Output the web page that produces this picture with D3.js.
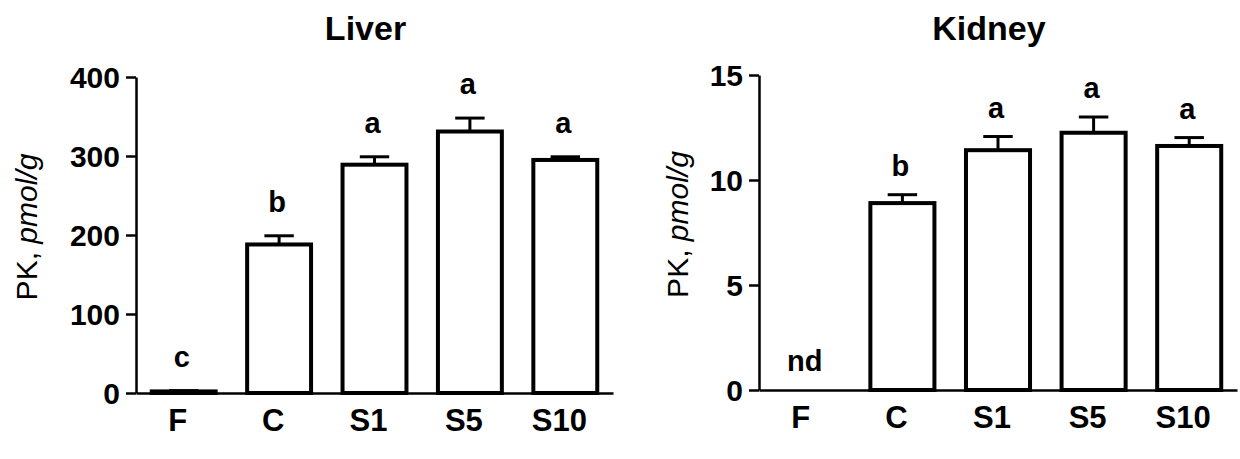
<!DOCTYPE html>
<html lang="en">
<head>
  <meta charset="UTF-8">
  <title>PK in liver and kidney</title>
  <script src="https://d3js.org/d3.v7.min.js"></script>
  <style>
    body { margin: 0; background: #fff; }
    svg text { font-family: Arial, "Liberation Sans", sans-serif; fill: #000; }
  </style>
</head>
<body>
  <div id="chart"></div>
  <script>
    // groups on the x axis
    const groups = ["F", "C", "S1", "S5", "S10"];

    // Liver (pmol/g)
    const liverMean = [2, 188, 289, 331, 295];
    const liverSem = [1, 11, 10, 17, 4];
    const liverLetters = ["c", "b", "a", "a", "a"];
    const liverTicks = [0, 100, 200, 300, 400];

    // Kidney (pmol/g), F not detected
    const kidneyMean = [null, 8.9, 11.42, 12.25, 11.62];
    const kidneySem = [null, 0.4, 0.65, 0.75, 0.4];
    const kidneyLetters = ["nd", "b", "a", "a", "a"];
    const kidneyTicks = [0, 5, 10, 15];

    const svg = d3.select("#chart").append("svg")
      .attr("width", 1240).attr("height", 459);

    const panels = [
      { title: "Liver", mean: liverMean, sem: liverSem, letters: liverLetters, ticks: liverTicks,
        max: 400, x0: 136, x1: 613, yTop: 77, yBot: 393, gap: 24, labelX: 37 },
      { title: "Kidney", mean: kidneyMean, sem: kidneySem, letters: kidneyLetters, ticks: kidneyTicks,
        max: 15, x0: 759, x1: 1237, yTop: 75, yBot: 390, gap: 19, labelX: 688 }
    ];

    panels.forEach(p => {
      const g = svg.append("g");
      const x = d3.scaleBand().domain(groups).range([p.x0, p.x1]).paddingInner(0.33).paddingOuter(0.165);
      const y = d3.scaleLinear().domain([0, p.max]).range([p.yBot, p.yTop]);

      // y axis
      const ya = g.append("g")
        .attr("transform", `translate(${p.x0},0)`)
        .call(d3.axisLeft(y).tickValues(p.ticks).tickSize(10).tickSizeOuter(0).tickPadding(6));
      ya.selectAll("path, line").attr("stroke", "#000").attr("stroke-width", 2.5);
      ya.selectAll("text").attr("font-size", 30).attr("font-weight", "bold").attr("dy", "0.36em");

      // x axis (no ticks)
      const xa = g.append("g")
        .attr("transform", `translate(0,${p.yBot})`)
        .call(d3.axisBottom(x).tickSize(0).tickSizeOuter(0).tickPadding(16));
      xa.select("path").attr("stroke", "#000").attr("stroke-width", 2.5);
      xa.selectAll("text").attr("font-size", 31).attr("font-weight", "bold").attr("dx", -6);

      const rows = groups.map((k, i) => ({ k, m: p.mean[i], s: p.sem[i], l: p.letters[i] }));
      const has = rows.filter(d => d.m != null);

      // error bars (upper only)
      g.selectAll(".err").data(has).enter().append("line")
        .attr("x1", d => x(d.k) + x.bandwidth() / 2).attr("x2", d => x(d.k) + x.bandwidth() / 2)
        .attr("y1", d => y(d.m)).attr("y2", d => y(d.m + d.s))
        .attr("stroke", "#000").attr("stroke-width", 3);
      g.selectAll(".cap").data(has).enter().append("line")
        .attr("x1", d => x(d.k) + x.bandwidth() * 0.27).attr("x2", d => x(d.k) + x.bandwidth() * 0.73)
        .attr("y1", d => y(d.m + d.s)).attr("y2", d => y(d.m + d.s))
        .attr("stroke", "#000").attr("stroke-width", 3);

      // bars
      g.selectAll(".bar").data(has).enter().append("rect")
        .attr("x", d => x(d.k)).attr("width", x.bandwidth())
        .attr("y", d => y(d.m)).attr("height", d => y(0) - y(d.m))
        .attr("fill", "#fff").attr("stroke", "#000").attr("stroke-width", 4);

      // significance letters
      g.selectAll(".let").data(rows).enter().append("text")
        .attr("x", d => x(d.k) + x.bandwidth() / 2 - 2)
        .attr("y", d => (d.m == null ? y(0) : y(d.m + d.s)) - p.gap)
        .attr("text-anchor", "middle").attr("font-size", 29).attr("font-weight", "bold")
        .text(d => d.l);

      // title
      g.append("text").attr("x", (p.x0 + p.x1) / 2 - 9).attr("y", 40)
        .attr("text-anchor", "middle").attr("font-size", 34).attr("font-weight", "bold")
        .text(p.title);

      // y label
      const yl = g.append("text")
        .attr("transform", `translate(${p.labelX},${(p.yTop + p.yBot) / 2 - 8}) rotate(-90)`)
        .attr("text-anchor", "middle").attr("font-size", 30);
      yl.append("tspan").text("PK, ");
      yl.append("tspan").attr("font-style", "italic").text("pmol/g");
    });
  </script>
</body>
</html>
